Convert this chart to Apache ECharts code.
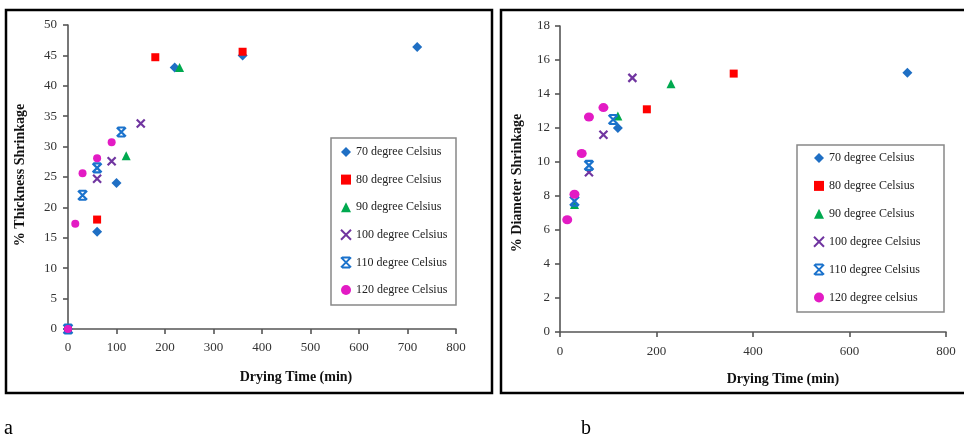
<!DOCTYPE html>
<html><head><meta charset="utf-8">
<script src="https://cdn.jsdelivr.net/npm/echarts@6/dist/echarts.min.js"></script>
<style>html,body{margin:0;padding:0;background:#fff}#c{width:964px;height:436px}</style>
</head><body><div id="c"></div><script>
// ---- data ----
const namesA = ['70 degree Celsius','80 degree Celsius','90 degree Celsius','100 degree Celsius','110 degree Celsius','120 degree Celsius'];
const namesB = ['70 degree Celsius','80 degree Celsius','90 degree Celsius','100 degree Celsius','110 degree Celsius','120 degree celsius'];

const a70  = [[0,0],[60,16],[100,24],[220,43],[360,45],[720,46.4]];
const a80  = [[0,0],[60,18],[180,44.7],[360,45.6]];
const a90  = [[0,0],[120,28.5],[230,43]];
const a100 = [[0,0],[60,24.7],[90,27.6],[150,33.8]];
const a110 = [[0,0],[30,22],[60,26.5],[110,32.4]];
const a120 = [[0,0],[15,17.3],[30,25.6],[60,28.1],[90,30.7]];

const b70  = [[120,12],[720,15.25]];
const b80  = [[180,13.1],[360,15.2]];
const b90  = [[30,7.5],[120,12.7],[230,14.6]];
const b100 = [[60,9.4],[90,11.6],[150,14.95]];
const b110 = [[30,7.7],[60,9.8],[110,12.5]];
const b120 = [[15,6.6],[30,8.1],[45,10.5],[60,12.65],[90,13.2]];

const xTitle = 'Drying Time (min)';
const yTitleA = '% Thickness Shrinkage';
const yTitleB = '% Diameter Shrinkage';

// ---- styles ----
const SERIF = '"Liberation Serif","DejaVu Serif",serif';
const styles = [
  {symbol:'diamond', size:10, itemStyle:{color:'#1f6fc4', opacity:1}},
  {symbol:'rect', size:8, itemStyle:{color:'#ff0000', opacity:1}},
  {symbol:'triangle', size:9, itemStyle:{color:'#00a94f', opacity:1}},
  {symbol:'path://M0,0L10,10M10,0L0,10', size:8, itemStyle:{color:'rgba(0,0,0,0)', borderColor:'#7035a0', borderWidth:2.2, opacity:1}},
  {symbol:'path://M0,0L10,10M10,0L0,10M1,0L9,0M1,10L9,10', size:9, itemStyle:{color:'rgba(0,0,0,0)', borderColor:'#1a72cc', borderWidth:2.2, opacity:1}},
  {symbol:'circle', size:8, itemStyle:{color:'#e31bc4', opacity:1}}
];
const dataA = [a70,a80,a90,a100,a110,a120];
const dataB = [b70,b80,b90,b100,b110,b120];

function mkSeries(names, data, idx, bigCircle) {
  return names.map((n,i)=>({
    name:n, type:'scatter', xAxisIndex:idx, yAxisIndex:idx,
    symbol:styles[i].symbol,
    symbolSize:(bigCircle && i===5)?[10,9]:styles[i].size,
    itemStyle:styles[i].itemStyle,
    emphasis:{disabled:true},
    data:data[i]
  }));
}

const axisCommon = {
  type:'value',
  splitLine:{show:false},
  axisLine:{show:true, lineStyle:{color:'#555', width:1.6}},
  axisTick:{show:true, length:5, lineStyle:{color:'#555', width:1.6}},
  axisLabel:{color:'#333', fontFamily:SERIF, fontSize:13}
};

const legendCommon = {
  orient:'vertical', itemWidth:10, itemHeight:10, itemGap:13.6,
  padding:0, textStyle:{fontFamily:SERIF, fontSize:12, color:'#222', lineHeight:14},
  selectedMode:false
};

const chart = echarts.init(document.getElementById('c'));
chart.setOption({
  animation:false,
  backgroundColor:'#fff',
  grid:[
    {left:68, top:25, width:388, height:304},
    {left:560, top:26, width:386, height:306}
  ],
  xAxis:[
    Object.assign({}, axisCommon, {gridIndex:0, min:0, max:800, interval:100, axisLabel:Object.assign({}, axisCommon.axisLabel, {margin:12})}),
    Object.assign({}, axisCommon, {gridIndex:1, min:0, max:800, interval:200, axisLabel:Object.assign({}, axisCommon.axisLabel, {margin:13})})
  ],
  yAxis:[
    Object.assign({}, axisCommon, {gridIndex:0, min:0, max:50, interval:5, axisLabel:Object.assign({}, axisCommon.axisLabel, {margin:11})}),
    Object.assign({}, axisCommon, {gridIndex:1, min:0, max:18, interval:2, axisLabel:Object.assign({}, axisCommon.axisLabel, {margin:10})})
  ],
  legend:[
    Object.assign({}, legendCommon, {left:340, top:145, data:namesA}),
    Object.assign({}, legendCommon, {left:813, top:151, itemGap:13.9, data:namesB})
  ],
  graphic:[
    {type:'rect', shape:{x:6, y:10, width:486, height:383}, style:{fill:'none', stroke:'#000', lineWidth:2.5}},
    {type:'rect', shape:{x:501, y:10, width:470, height:383}, style:{fill:'none', stroke:'#000', lineWidth:2.5}},
    {type:'rect', shape:{x:331, y:138, width:125, height:167}, style:{fill:'none', stroke:'#888', lineWidth:1.5}},
    {type:'rect', shape:{x:797, y:145, width:147, height:167}, style:{fill:'none', stroke:'#888', lineWidth:1.5}},
    {type:'text', x:296, y:377, style:{text:xTitle, align:'center', verticalAlign:'middle', font:'bold 14px '+SERIF, fill:'#111'}},
    {type:'text', x:783, y:379, style:{text:xTitle, align:'center', verticalAlign:'middle', font:'bold 14px '+SERIF, fill:'#111'}},
    {type:'text', x:20, y:175, rotation:Math.PI/2, style:{text:yTitleA, align:'center', verticalAlign:'middle', font:'bold 14px '+SERIF, fill:'#111'}},
    {type:'text', x:517, y:183, rotation:Math.PI/2, style:{text:yTitleB, align:'center', verticalAlign:'middle', font:'bold 14px '+SERIF, fill:'#111'}},
    {type:'text', x:4, y:429, style:{text:'a', align:'left', verticalAlign:'middle', font:'20px '+SERIF, fill:'#000'}},
    {type:'text', x:581, y:429, style:{text:'b', align:'left', verticalAlign:'middle', font:'20px '+SERIF, fill:'#000'}}
  ],
  series:[].concat(mkSeries(namesA, dataA, 0, false), mkSeries(namesB, dataB, 1, true))
});
</script></body></html>
